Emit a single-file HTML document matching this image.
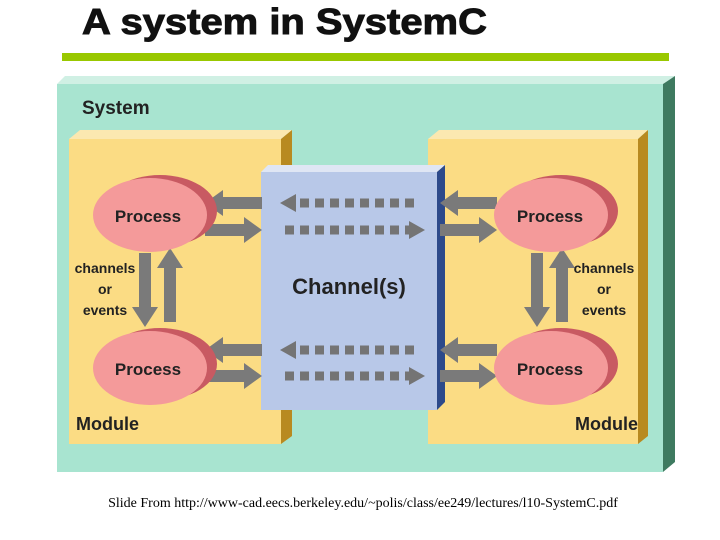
<!DOCTYPE html>
<html><head><style>
body{margin:0;width:720px;height:540px;background:#fff;overflow:hidden;position:relative;font-family:"Liberation Sans",sans-serif}
.t{position:absolute;left:82px;top:1px;font-size:36px;font-weight:bold;color:#111;transform:scaleX(1.11);transform-origin:0 0;white-space:nowrap;-webkit-text-stroke:1px #111}
.foot{position:absolute;left:0;width:726px;text-align:center;top:496px;font-family:"Liberation Serif",serif;font-size:14px}
</style></head><body>
<div class="t">A system in SystemC</div>
<div style="position:absolute;left:62px;top:53px;width:607px;height:8px;background:#99c800"></div>
<svg width="720" height="540" style="position:absolute;left:0;top:0" font-family="Liberation Sans, sans-serif" font-weight="bold">
<polygon points="57,84 65,76 675,76 663,84" fill="#d0f0e4"/>
<polygon points="663,84 675,76 675,462 663,472" fill="#3e7a60"/>
<rect x="57" y="84" width="606" height="388" fill="#a8e4d0"/>
<text x="82" y="114" font-size="19" fill="#222">System</text>
<polygon points="69,139 80,130 292,130 281,139" fill="#fbe8b0"/>
<polygon points="281,139 292,130 292,436 281,444" fill="#b88a20"/>
<rect x="69" y="139" width="212" height="305" fill="#fbdc84"/>
<polygon points="428,139 439,130 648,130 638,139" fill="#fbe8b0"/>
<polygon points="638,139 648,130 648,436 638,444" fill="#b88a20"/>
<rect x="428" y="139" width="210" height="305" fill="#fbdc84"/>
<polygon points="261,172 268,165 445,165 437,172" fill="#dfe6f4"/>
<polygon points="437,172 445,165 445,402 437,410" fill="#2d4a8a"/>
<rect x="261" y="172" width="176" height="238" fill="#b8c8e8"/>
<text x="349" y="294" font-size="22" fill="#222" text-anchor="middle">Channel(s)</text>
<g fill="#747474">
<polygon points="280,203 296,194 296,212"/><line x1="300" y1="203" x2="418" y2="203" stroke="#747474" stroke-width="9" stroke-dasharray="9,6"/>
<line x1="285" y1="230" x2="410" y2="230" stroke="#747474" stroke-width="9" stroke-dasharray="9,6"/><polygon points="425,230 409,221 409,239"/>
<polygon points="280,350 296,341 296,359"/><line x1="300" y1="350" x2="418" y2="350" stroke="#747474" stroke-width="9" stroke-dasharray="9,6"/>
<line x1="285" y1="376" x2="410" y2="376" stroke="#747474" stroke-width="9" stroke-dasharray="9,6"/><polygon points="425,376 409,367 409,385"/>
</g>
<g fill="#7a7a7a">
<polygon points="205,203 223,190 223,197 262,197 262,209 223,209 223,216"/>
<polygon points="262,230 244,217 244,224 205,224 205,236 244,236 244,243"/>
<polygon points="205,350 223,337 223,344 262,344 262,356 223,356 223,363"/>
<polygon points="262,376 244,363 244,370 205,370 205,382 244,382 244,389"/>
<polygon points="440,203 458,190 458,197 497,197 497,209 458,209 458,216"/>
<polygon points="497,230 479,217 479,224 440,224 440,236 479,236 479,243"/>
<polygon points="440,350 458,337 458,344 497,344 497,356 458,356 458,363"/>
<polygon points="497,376 479,363 479,370 440,370 440,382 479,382 479,389"/>
<polygon points="145,327 132,307 139,307 139,253 151,253 151,307 158,307"/>
<polygon points="170,248 157,268 164,268 164,322 176,322 176,268 183,268"/>
<polygon points="537,327 524,307 531,307 531,253 543,253 543,307 550,307"/>
<polygon points="562,248 549,268 556,268 556,322 568,322 568,268 575,268"/>
</g>
<ellipse cx="160" cy="211" rx="57" ry="36" fill="#c85a62"/>
<ellipse cx="150" cy="215" rx="57" ry="37" fill="#f49a9a"/>
<ellipse cx="160" cy="364" rx="57" ry="36" fill="#c85a62"/>
<ellipse cx="150" cy="368" rx="57" ry="37" fill="#f49a9a"/>
<ellipse cx="561" cy="211" rx="57" ry="36" fill="#c85a62"/>
<ellipse cx="551" cy="215" rx="57" ry="37" fill="#f49a9a"/>
<ellipse cx="561" cy="364" rx="57" ry="36" fill="#c85a62"/>
<ellipse cx="551" cy="368" rx="57" ry="37" fill="#f49a9a"/>
<g font-size="17" fill="#222" text-anchor="middle">
<text x="148" y="222">Process</text><text x="148" y="375">Process</text>
<text x="550" y="222">Process</text><text x="550" y="375">Process</text>
</g>
<g font-size="14" fill="#222" text-anchor="middle">
<text x="105" y="273">channels</text><text x="105" y="294">or</text><text x="105" y="315">events</text>
<text x="604" y="273">channels</text><text x="604" y="294">or</text><text x="604" y="315">events</text>
</g>
<g font-size="18" fill="#222">
<text x="76" y="430">Module</text><text x="575" y="430">Module</text>
</g>
</svg>
<div class="foot">Slide From http://www-cad.eecs.berkeley.edu/~polis/class/ee249/lectures/l10-SystemC.pdf</div>
</body></html>
